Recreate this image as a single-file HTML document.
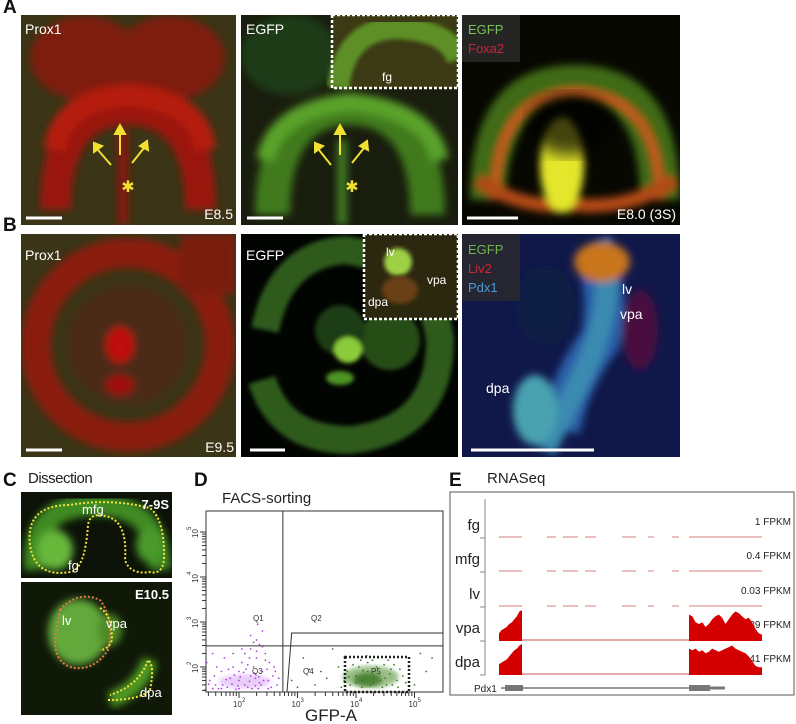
<!DOCTYPE html>
<html><head><meta charset="utf-8"><style>
html,body{margin:0;padding:0;background:#fff;}
body{width:796px;height:724px;position:relative;overflow:hidden;font-family:"Liberation Sans",sans-serif;}
.lbl{position:absolute;font-weight:bold;font-size:19px;color:#111;}
.ttl{position:absolute;font-size:15px;color:#222;}
svg{position:absolute;left:0;top:0;}
</style></head><body>
<div class="lbl" style="left:3px;top:-3px">A</div>
<div class="lbl" style="left:3px;top:215px">B</div>
<div class="lbl" style="left:3px;top:470px">C</div>
<div class="ttl" style="left:28px;top:470px;letter-spacing:-0.5px">Dissection</div>
<div class="lbl" style="left:194px;top:470px">D</div>
<div class="ttl" style="left:222px;top:490px">FACS-sorting</div>
<div class="lbl" style="left:449px;top:470px">E</div>
<div class="ttl" style="left:487px;top:470px">RNASeq</div>

<svg width="796" height="724">
<defs>
<filter id="b4"><feGaussianBlur stdDeviation="4"/></filter>
<filter id="b8"><feGaussianBlur stdDeviation="8"/></filter>
<filter id="b2"><feGaussianBlur stdDeviation="2"/></filter>
<filter id="b1"><feGaussianBlur stdDeviation="1.2"/></filter>
<clipPath id="cA1"><rect x="21" y="15" width="215" height="210"/></clipPath>
<clipPath id="cA2"><rect x="241" y="15" width="217" height="210"/></clipPath>
<clipPath id="cA3"><rect x="462" y="15" width="218" height="210"/></clipPath>
<clipPath id="cB1"><rect x="21" y="234" width="215" height="223"/></clipPath>
<clipPath id="cB2"><rect x="241" y="234" width="217" height="223"/></clipPath>
<clipPath id="cB3"><rect x="462" y="234" width="218" height="223"/></clipPath>
<clipPath id="cC1"><rect x="21" y="492" width="151" height="86"/></clipPath>
<clipPath id="cC2"><rect x="21" y="582" width="151" height="133"/></clipPath>
</defs>

<!-- A1 -->
<g clip-path="url(#cA1)">
<rect x="21" y="15" width="215" height="210" fill="#3a3516"/>
<g filter="url(#b4)">
<ellipse cx="85" cy="58" rx="55" ry="42" fill="#7e1a0c"/>
<ellipse cx="170" cy="58" rx="55" ry="42" fill="#7e1a0c"/>
<path d="M40 210 Q40 90 128 90 Q216 90 216 210 L185 210 Q185 125 128 125 Q71 125 71 210Z" fill="#9a160c"/>
<path d="M55 150 Q60 100 128 95 Q200 100 205 150" stroke="#b51a10" stroke-width="22" fill="none"/>
<rect x="118" y="130" width="10" height="95" fill="#8a180c"/>
</g>
</g>
<!-- A2 -->
<g clip-path="url(#cA2)">
<rect x="241" y="15" width="217" height="210" fill="#191d0e"/>
<g filter="url(#b4)">
<ellipse cx="290" cy="55" rx="50" ry="40" fill="#1f3b12"/>
<path d="M255 215 Q255 95 350 95 Q445 95 445 215 L410 215 Q410 125 350 125 Q290 125 290 215Z" fill="#3f7a1e"/>
<path d="M265 160 Q275 110 350 102 Q430 110 440 160" stroke="#5aa22a" stroke-width="18" fill="none"/>
<rect x="337" y="140" width="10" height="85" fill="#3f7a20"/>
</g>
</g>
<g>
<rect x="332" y="15" width="126" height="73" fill="#3b3a14"/>
<path d="M338 88 Q345 30 395 28 Q450 30 458 60" stroke="#5d8f25" stroke-width="22" fill="none" filter="url(#b2)"/>
<rect x="332" y="15" width="126" height="73" fill="none" stroke="#fff" stroke-width="2.5" stroke-dasharray="3,2"/>
<text x="382" y="81" fill="#fff" font-size="12">fg</text>
</g>
<!-- A3 -->
<g clip-path="url(#cA3)">
<rect x="462" y="15" width="218" height="210" fill="#070802"/>
<g filter="url(#b4)">
<path d="M470 200 Q470 65 575 65 Q680 65 680 200 L640 200 Q640 100 575 98 Q510 100 505 200Z" fill="#3f6a12"/>
<path d="M495 200 Q495 95 575 92 Q660 95 660 200" stroke="#c8561a" stroke-width="9" fill="none"/>
<path d="M478 180 Q520 210 575 205 Q630 210 675 180" stroke="#b24a16" stroke-width="14" fill="none"/>
<ellipse cx="562" cy="165" rx="22" ry="48" fill="#e3e62a"/>
</g>
<ellipse cx="570" cy="125" rx="40" ry="30" fill="#050400" filter="url(#b8)" opacity="0.7"/>
</g>
<rect x="462" y="15" width="58" height="47" fill="#2a2a2a" opacity="0.85"/>
<text x="468" y="34" fill="#7cc25a" font-size="13">EGFP</text>
<text x="468" y="53" fill="#c4283a" font-size="13">Foxa2</text>

<!-- B1 -->
<g clip-path="url(#cB1)">
<rect x="21" y="234" width="215" height="223" fill="#3a3516"/>
<g filter="url(#b4)">
<circle cx="128" cy="345" r="92" fill="none" stroke="#8a1a10" stroke-width="30"/>
<circle cx="128" cy="345" r="60" fill="#4c2a14"/>
<ellipse cx="120" cy="345" rx="14" ry="18" fill="#c01010"/>
<ellipse cx="120" cy="385" rx="14" ry="10" fill="#a01010"/>
<rect x="180" y="234" width="56" height="60" fill="#7a1a10"/>
</g>
</g>
<!-- B2 -->
<g clip-path="url(#cB2)">
<rect x="241" y="234" width="217" height="223" fill="#020402"/>
<g filter="url(#b2)">
<path d="M265 330 Q280 255 345 250 Q430 262 440 340 Q440 430 350 440 Q280 440 262 380" stroke="#2d5a1c" stroke-width="28" fill="none"/>
<circle cx="390" cy="340" r="30" fill="#254e16"/>
<ellipse cx="340" cy="330" rx="25" ry="25" fill="#1d3c12"/>
<ellipse cx="348" cy="350" rx="14" ry="13" fill="#8ccc3a"/>
<ellipse cx="340" cy="378" rx="14" ry="7" fill="#4e9424"/>
</g>
</g>
<g>
<rect x="364" y="234" width="94" height="85" fill="#2c2810"/>
<ellipse cx="398" cy="262" rx="14" ry="14" fill="#9ed044" filter="url(#b2)"/>
<ellipse cx="400" cy="290" rx="18" ry="14" fill="#6a4018" filter="url(#b2)"/>
<rect x="364" y="234" width="94" height="85" fill="none" stroke="#fff" stroke-width="2.5" stroke-dasharray="3,2"/>
<text x="386" y="256" fill="#fff" font-size="12">lv</text>
<text x="427" y="284" fill="#fff" font-size="12">vpa</text>
<text x="368" y="306" fill="#fff" font-size="12">dpa</text>
</g>
<!-- B3 -->
<g clip-path="url(#cB3)">
<rect x="462" y="234" width="218" height="223" fill="#10184a"/>
<g filter="url(#b4)">
<path d="M595 250 Q610 300 600 340 Q570 380 560 430" stroke="#2a5fa8" stroke-width="40" fill="none"/>
<path d="M600 240 Q620 300 580 380 Q560 420 545 450" stroke="#3a8ab0" stroke-width="22" fill="none"/>
<ellipse cx="602" cy="262" rx="28" ry="20" fill="#c8741c"/>
<ellipse cx="640" cy="330" rx="18" ry="40" fill="#4a0f40"/>
<ellipse cx="535" cy="410" rx="22" ry="35" fill="#4aa2b0"/>
<ellipse cx="545" cy="305" rx="30" ry="40" fill="#0a1a42"/>
</g>
</g>
<rect x="462" y="234" width="58" height="67" fill="#2a2a2a" opacity="0.8"/>
<text x="468" y="254" fill="#6fb84a" font-size="13">EGFP</text>
<text x="468" y="273" fill="#cc2a30" font-size="13">Liv2</text>
<text x="468" y="292" fill="#4a9ad8" font-size="13">Pdx1</text>

<!-- panel text overlays -->
<g fill="#fff" font-size="14" font-family="Liberation Sans, sans-serif">
<text x="25" y="34">Prox1</text>
<text x="246" y="34">EGFP</text>
<text x="25" y="260">Prox1</text>
<text x="246" y="260">EGFP</text>
<text x="233" y="219" text-anchor="end">E8.5</text>
<text x="676" y="219" text-anchor="end">E8.0 (3S)</text>
<text x="234" y="452" text-anchor="end">E9.5</text>
<text x="622" y="294">lv</text>
<text x="620" y="319">vpa</text>
<text x="486" y="393">dpa</text>
</g>
<g stroke="#fff" stroke-width="3">
<line x1="26" y1="218" x2="62" y2="218"/><line x1="247" y1="218" x2="283" y2="218"/><line x1="467" y1="218" x2="518" y2="218"/>
<line x1="26" y1="450" x2="62" y2="450"/><line x1="250" y1="450" x2="285" y2="450"/><line x1="471" y1="450" x2="594" y2="450"/>
</g>
<g stroke="#f2e030" stroke-width="2" fill="#f2e030">
<line x1="120" y1="155" x2="120" y2="132"/><polygon points="115,134 125,134 120,125"/>
<line x1="111" y1="165" x2="98" y2="150"/><polygon points="94,152 102,146 94,143"/>
<line x1="132" y1="163" x2="144" y2="148"/><polygon points="140,146 148,150 147,141"/>
<line x1="340" y1="155" x2="340" y2="132"/><polygon points="335,134 345,134 340,125"/>
<line x1="331" y1="165" x2="319" y2="150"/><polygon points="315,152 323,146 315,143"/>
<line x1="352" y1="163" x2="364" y2="148"/><polygon points="360,146 368,150 367,141"/>
<text x="128" y="192" font-size="16" stroke="none" text-anchor="middle">✱</text>
<text x="352" y="192" font-size="16" stroke="none" text-anchor="middle">✱</text>
</g>
<g fill="#fff"><rect x="236" y="15" width="5" height="442"/><rect x="458" y="15" width="4" height="442"/><rect x="21" y="225" width="660" height="9"/></g>

<!-- C1 -->
<g clip-path="url(#cC1)">
<rect x="21" y="492" width="151" height="86" fill="#0c1208"/>
<g filter="url(#b4)">
<path d="M35 570 Q30 505 95 505 Q160 505 160 570" stroke="#3f8a22" stroke-width="22" fill="none"/>
<ellipse cx="55" cy="550" rx="18" ry="20" fill="#66b83a"/>
<ellipse cx="150" cy="545" rx="14" ry="18" fill="#4a9a2a"/>
</g>
<path d="M30 545 Q25 505 70 505 Q110 498 150 508 Q165 520 164 560 Q162 575 150 572 Q130 575 125 560 Q128 520 105 516 Q90 512 88 525 Q85 570 70 572 Q35 578 30 545Z" fill="none" stroke="#f2e23a" stroke-width="2" stroke-dasharray="2,2"/>
</g>
<!-- C2 -->
<g clip-path="url(#cC2)">
<rect x="21" y="582" width="151" height="133" fill="#101808"/>
<g filter="url(#b4)">
<ellipse cx="78" cy="632" rx="30" ry="33" fill="#62a83a"/>
<ellipse cx="110" cy="630" rx="12" ry="16" fill="#4e8a28"/>
<path d="M110 700 Q140 690 150 660" stroke="#4e9a24" stroke-width="16" fill="none"/>
</g>
<path d="M60 610 Q78 590 100 600 Q115 620 108 650 Q95 670 75 668 Q55 665 55 640Z" fill="none" stroke="#e07a4a" stroke-width="2" stroke-dasharray="2,2"/>
<path d="M100 608 Q112 615 112 640 Q108 650 100 650" fill="none" stroke="#f2e23a" stroke-width="2" stroke-dasharray="2,2"/>
<path d="M108 700 Q140 700 150 690 Q155 665 148 660 Q140 685 110 695" fill="none" stroke="#f2e23a" stroke-width="2" stroke-dasharray="2,2"/>
</g>
<g fill="#fff" font-size="13">
<text x="169" y="509" text-anchor="end" font-weight="bold">7-9S</text>
<text x="82" y="514">mfg</text>
<text x="68" y="570">fg</text>
<text x="169" y="599" text-anchor="end" font-weight="bold">E10.5</text>
<text x="62" y="625">lv</text>
<text x="106" y="628">vpa</text>
<text x="140" y="697">dpa</text>
</g>
<rect x="21" y="578" width="151" height="4" fill="#fff"/>

<g id="facs"></g>
<g id="rna"></g>
</svg>

<script>
// ===== FACS data =====
const xTicks=[2,3,4,5];
const yTicks=[2,3,4,5];
const gateX=2.75, gateY=2.47;
const q3Points=[[1.6,1.6],[1.7,1.9],[1.8,1.55],[1.9,2.0],[2.0,1.7],[2.1,1.6],[2.2,1.8],[2.3,2.2],[2.35,1.65],[2.4,1.9],[2.2,2.4],[2.3,2.6],[2.4,2.8],[2.35,2.5],[2.1,2.3],[2.5,1.7],[2.6,2.0],[2.65,1.6],[1.5,1.7],[1.45,2.1],[1.55,2.3],[1.75,2.2],[1.95,1.5],[2.05,2.1],[2.25,2.0],[2.45,2.3],[2.15,1.55],[2.28,1.75],[1.85,1.75],[2.55,1.55],[2.32,2.95],[2.2,2.7],[1.65,1.52],[2.0,1.9],[2.38,1.6],[2.12,1.95],
[1.42,1.5],[1.48,1.62],[1.58,1.8],[1.62,2.0],[1.72,1.6],[1.78,1.72],[1.82,1.95],[1.88,1.62],[1.92,1.82],[1.98,1.58],[2.02,1.78],[2.08,1.88],[2.18,1.68],[2.22,1.52],[2.26,1.86],[2.34,1.78],[2.42,1.7],[2.48,1.95],[2.52,2.1],[2.58,1.8],[2.62,1.9],[2.68,1.75],[2.3,2.35],[2.25,2.55],[2.4,2.45],[2.18,2.2],[2.05,2.4],[1.9,2.3],[2.45,2.15],[2.15,2.05],[2.28,1.58],[1.7,1.52],[2.0,1.52],[2.33,1.52],[2.5,1.52],[1.55,1.52]];
const p5Points=[[3.9,1.6],[4.0,1.8],[4.1,1.7],[4.2,1.9],[4.3,1.65],[4.4,1.85],[4.5,1.75],[4.6,1.95],[4.2,2.1],[4.1,1.55],[4.35,2.0],[4.7,1.7],[4.8,1.8],[3.8,1.7],[4.25,1.6],[4.45,1.55],[4.05,2.0],[4.55,2.15],[4.9,2.0],[5.1,2.3],[3.4,1.9],[3.1,2.2],[2.9,1.7],[3.6,2.4],[5.2,1.9],[4.15,1.75],[4.3,1.8],[4.0,1.65],
[3.85,1.9],[3.95,2.05],[4.08,2.15],[4.18,2.25],[4.28,2.15],[4.38,2.2],[4.48,2.05],[4.58,1.85],[4.65,2.05],[4.75,1.95],[4.85,1.65],[4.72,1.55],[4.62,1.6],[3.75,1.55],[3.88,1.78],[4.12,1.92],[4.32,1.9],[4.42,1.7],[4.52,1.6],[3.3,1.6],[3.5,1.75],[3.2,1.95],[3.0,1.55],[5.3,2.2],[5.0,1.6],[3.7,2.0]];
// ===== RNAseq data =====
const trackNames=['fg','mfg','lv','vpa','dpa'];
const trackFpkm=['1 FPKM','0.4 FPKM','0.03 FPKM','39 FPKM','41 FPKM'];
const exon1Vpa=[0.25,0.35,0.4,0.45,0.55,0.6,0.7,0.8,0.95,1.0];
const exon2Vpa=[0.85,0.8,0.6,0.55,0.6,0.45,0.55,0.7,0.8,0.85,0.75,0.55,0.7,0.85,0.95,0.9,0.8,0.7,0.75,0.6,0.4,0.25,0.2];
const exon1Dpa=[0.35,0.4,0.45,0.5,0.6,0.7,0.8,0.85,0.95,1.0];
const exon2Dpa=[0.85,0.8,0.85,0.75,0.8,0.7,0.75,0.85,0.8,0.75,0.8,0.85,0.9,0.95,0.85,0.8,0.75,0.7,0.6,0.45,0.3,0.25,0.25];
const NS='http://www.w3.org/2000/svg';
function mk(tag,attrs,parent){const e=document.createElementNS(NS,tag);for(const k in attrs)e.setAttribute(k,attrs[k]);parent.appendChild(e);return e;}
// FACS axes
const fx=v=>239+(v-2)*58.5, fy=v=>667-(v-2)*45;
const F=document.getElementById('facs');
const box=mk('rect',{x:206,y:511,width:237,height:181,fill:'#fff',stroke:'#333','stroke-width':1},F);


mk('ellipse',{cx:fx(2.1),cy:fy(1.68),rx:26,ry:7,fill:'#c070f0',opacity:0.35,filter:'url(#b2)'},F);
mk('ellipse',{cx:fx(4.25),cy:fy(1.78),rx:28,ry:11,fill:'#4a8a2a',opacity:0.55,filter:'url(#b2)'},F);
mk('ellipse',{cx:fx(4.2),cy:fy(1.72),rx:14,ry:7,fill:'#2f6a18',opacity:0.7,filter:'url(#b2)'},F);
q3Points.forEach(p=>{const c=mk('circle',{cx:fx(p[0]),cy:fy(p[1]),r:0.9,fill:'#b040e0'},F);

});
p5Points.forEach(p=>{const c=mk('circle',{cx:fx(p[0]),cy:fy(p[1]),r:0.9,fill:'#3a7a22'},F);

});
mk('line',{x1:fx(gateX),y1:511,x2:fx(gateX),y2:692,stroke:'#333'},F);
mk('line',{x1:206,y1:fy(gateY),x2:443,y2:fy(gateY),stroke:'#333'},F);
mk('polyline',{points:`${fx(2.82)},692 ${fx(2.9)},633 443,633`,fill:'none',stroke:'#333'},F);
mk('rect',{x:345,y:657,width:64,height:35,fill:'none',stroke:'#222','stroke-width':2.5,'stroke-dasharray':'2,2'},F);
[['Q1',253,621],['Q2',311,621],['Q3',252,674],['Q4',303,674],['P5',371,674]].forEach(q=>{const t=mk('text',{x:q[1],y:q[2],'font-size':8,fill:'#333'},F);t.textContent=q[0];

});
xTicks.forEach(v=>{mk('line',{x1:fx(v),y1:692,x2:fx(v),y2:698,stroke:'#333'},F);
for(let k=2;k<10;k++){const x=fx(v-1+Math.log10(k));if(x>207)mk('line',{x1:x,y1:692,x2:x,y2:696,stroke:'#333'},F);}
const t=mk('text',{x:fx(v)-6,y:707,'font-size':8,fill:'#333'},F);t.textContent='10';


const s=mk('text',{x:fx(v)+3,y:702,'font-size':6,fill:'#333'},F);s.textContent=v;});
yTicks.forEach(v=>{mk('line',{x1:200,y1:fy(v),x2:206,y2:fy(v),stroke:'#333'},F);
for(let k=2;k<10;k++){const y=fy(v-1+Math.log10(k));if(y<692)mk('line',{x1:202,y1:y,x2:206,y2:y,stroke:'#333'},F);}
const t=mk('text',{x:198,y:fy(v)+6,'font-size':8,fill:'#333',transform:`rotate(-90 198 ${fy(v)+6})`},F);t.textContent='10';


const s=mk('text',{x:191,y:fy(v)-2,'font-size':6,fill:'#333',transform:`rotate(-90 191 ${fy(v)-2})`},F);s.textContent=v;});
const xt=mk('text',{x:305,y:721,'font-size':17,fill:'#222'},F);xt.textContent='GFP-A';


// RNAseq
const R=document.getElementById('rna');
const eb=mk('rect',{x:450,y:492,width:344,height:203,fill:'#fff',stroke:'#555','stroke-width':1},R);


mk('line',{x1:485,y1:499,x2:485,y2:675,stroke:'#888'},R);
const base=[538,572,607,641,675], H=31;
trackNames.forEach((n,i)=>{
mk('line',{x1:480,y1:base[i],x2:485,y2:base[i],stroke:'#888'},R);
const t=mk('text',{x:480,y:base[i]-8,'font-size':15,fill:'#222','text-anchor':'end'},R);t.textContent=n;


const f=mk('text',{x:791,y:base[i]-13,'font-size':10,fill:'#222','text-anchor':'end'},R);f.textContent=trackFpkm[i];


if(i<3){[[499,522],[547,556],[563,578],[585,596],[622,636],[648,654],[672,679],[689,762]].forEach(s=>mk('line',{x1:s[0],y1:base[i]-1,x2:s[1],y2:base[i]-1,stroke:'#d06060','stroke-width':1,opacity:0.8},R));}
else mk('line',{x1:499,y1:base[i]-1,x2:762,y2:base[i]-1,stroke:'#c04040','stroke-width':1.2,opacity:0.7},R);});
function area(vals,x0,x1,b){const dx=(x1-x0)/(vals.length-1);let d=`M${x0},${b}`;vals.forEach((v,j)=>{d+=` L${x0+j*dx},${b-v*H}`;});d+=` L${x1},${b}Z`;
const p=mk('path',{d:d,fill:'#d40000'},R);

}
area(exon1Vpa,499,522,641);area(exon2Vpa,689,762,641);
area(exon1Dpa,499,522,675);area(exon2Dpa,689,762,675);
mk('line',{x1:501,y1:688,x2:725,y2:688,stroke:'#777','stroke-width':1.5},R);
mk('rect',{x:505,y:685,width:18,height:6,fill:'#777'},R);
mk('rect',{x:689,y:685,width:21,height:6,fill:'#777'},R);
mk('rect',{x:710,y:686.5,width:15,height:3,fill:'#777'},R);
const g=mk('text',{x:474,y:692,'font-size':10,fill:'#222'},R);g.textContent='Pdx1';


</script>
</body></html>
